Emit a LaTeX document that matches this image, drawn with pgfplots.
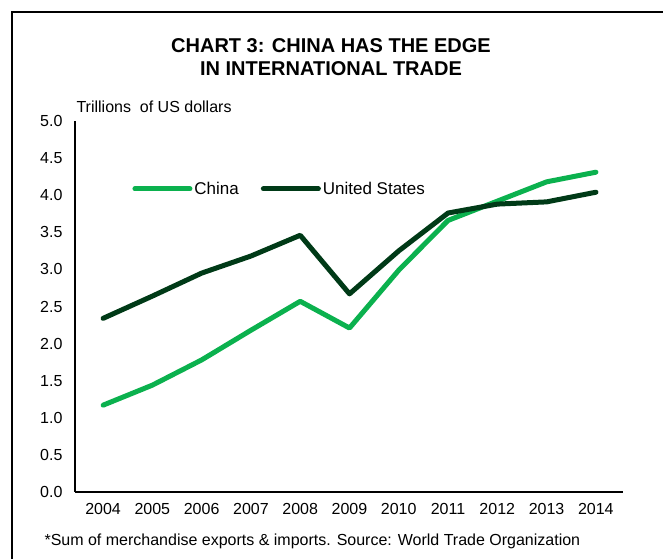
\documentclass[border=0pt]{standalone}
\usepackage{pgfplots}
\pgfplotsset{compat=1.18}
\usepackage{fontspec}
\setmainfont{Liberation Sans}
\definecolor{chinagreen}{HTML}{0BB14E}
\definecolor{usgreen}{HTML}{003A17}
\begin{document}
\begin{tikzpicture}
\path[use as bounding box] (0pt,0pt) rectangle (663pt,559pt);
\draw[line width=1.6pt] (12pt,0pt) -- (12pt,547pt) -- (663pt,547pt);
\node[font=\fontsize{20}{23}\selectfont\bfseries, align=center] at (331pt,502pt) {CHART 3: CHINA HAS THE EDGE\\IN INTERNATIONAL TRADE};
\node[font=\fontsize{16}{18}\selectfont, anchor=base west] at (73pt,446pt) {Trillions\ \ of US dollars};
\node[font=\fontsize{16}{18}\selectfont, anchor=base west] at (41pt,14pt) {*Sum of merchandise exports \& imports. Source: World Trade Organization};
\begin{axis}[
  at={(75pt,67pt)}, anchor=south west,
  scale only axis, width=548pt, height=371pt,
  xmin=2003.43, xmax=2014.55, ymin=0, ymax=5,
  axis x line=bottom, axis y line=left,
  axis line style={line width=2.2pt, -},
  xtick={2004,...,2014}, ytick={0,0.5,...,5},
  major tick length=0pt,
  tick label style={font=\fontsize{16}{18}\selectfont},
  /pgf/number format/assume math mode=true,
  x tick label style={/pgf/number format/set thousands separator={}, yshift=-8pt},
  y tick label style={/pgf/number format/fixed, /pgf/number format/fixed zerofill, /pgf/number format/precision=1, xshift=-9pt},
  legend style={draw=none, fill=none, at={(0.099,0.817)}, anchor=west, font=\fontsize{17}{19}\selectfont, legend columns=2, /tikz/every even column/.append style={column sep=20pt}},
  legend image code/.code={\draw[#1] (0pt,0pt) -- (55pt,0pt);},
  clip=false,
]
\addplot[color=chinagreen, line width=5pt, line cap=round, line join=round] coordinates {
(2004,1.17) (2005,1.44) (2006,1.78) (2007,2.18) (2008,2.57) (2009,2.21) (2010,2.99) (2011,3.66) (2012,3.92) (2013,4.18) (2014,4.31)};
\addlegendentry{China}
\addplot[color=usgreen, line width=5pt, line cap=round, line join=round] coordinates {
(2004,2.34) (2005,2.64) (2006,2.95) (2007,3.18) (2008,3.46) (2009,2.67) (2010,3.25) (2011,3.76) (2012,3.88) (2013,3.91) (2014,4.04)};
\addlegendentry{United States}
\end{axis}
\end{tikzpicture}
\end{document}
